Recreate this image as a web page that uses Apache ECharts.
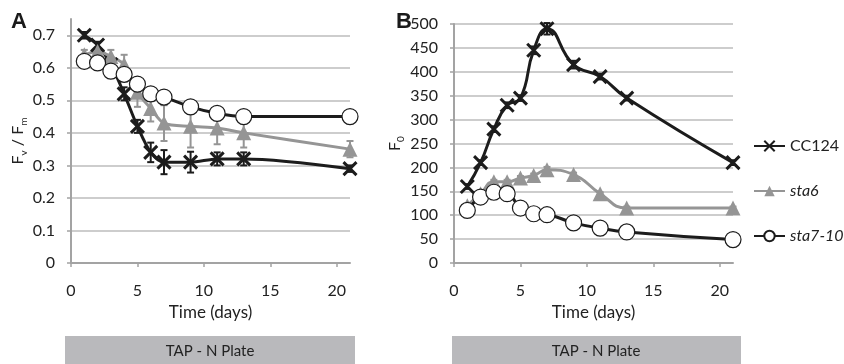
<!DOCTYPE html>
<html>
<head>
<meta charset="utf-8">
<script src="https://cdn.jsdelivr.net/npm/echarts@6/dist/echarts.min.js"></script>
<style>
html,body{margin:0;padding:0;background:#fff;}
#chart{width:844px;height:364px;}
</style>
</head>
<body>
<div id="chart"></div>
<script>
// ---- data ----
const days = [1, 2, 3, 4, 5, 6, 7, 9, 11, 13, 21];
const seriesNames = ['CC124', 'sta6', 'sta7-10'];

// Panel A: Fv/Fm
const fvfmCC124     = [0.70, 0.67, 0.61, 0.52, 0.42, 0.34, 0.31, 0.31, 0.32, 0.32, 0.29];
const fvfmCC124Err  = [0.01, 0.01, 0.02, 0.02, 0.02, 0.03, 0.037, 0.032, 0.02, 0.02, 0.01];
const fvfmSta6      = [0.64, 0.65, 0.635, 0.61, 0.525, 0.475, 0.43, 0.42, 0.415, 0.40, 0.35];
const fvfmSta6Err   = [0.015, 0.01, 0.02, 0.03, 0.045, 0.04, 0.055, 0.065, 0.05, 0.045, 0.025];
const fvfmSta710    = [0.62, 0.615, 0.59, 0.58, 0.55, 0.52, 0.51, 0.48, 0.46, 0.45, 0.45];
const fvfmSta710Err = [0.02, 0.01, 0.01, 0.01, 0.01, 0.01, 0.01, 0.01, 0.01, 0.01, 0.01];

// Panel B: F0
const f0CC124     = [160, 210, 280, 330, 345, 445, 490, 415, 390, 345, 210];
const f0CC124Err  = [5, 5, 6, 6, 6, 8, 12, 8, 6, 5, 5];
const f0Sta6      = [120, 145, 170, 170, 178, 183, 195, 185, 145, 115, 115];
const f0Sta6Err   = [3, 3, 4, 4, 4, 4, 6, 4, 3, 3, 3];
const f0Sta710    = [110, 138, 148, 145, 115, 103, 101, 84, 73, 65, 49];
const f0Sta710Err = [2, 2, 2, 2, 2, 2, 2, 2, 2, 2, 2];

const xTicks = [0, 5, 10, 15, 20];
const yTicksA = [0, 0.1, 0.2, 0.3, 0.4, 0.5, 0.6, 0.7];

// ---- styles ----
const FONT = 'Lato, "Liberation Sans", sans-serif';
const BLACK = '#1c1c1c';
const GRAY = '#959595';
const GRID_LINE = '#bcbcbc';
const AXIS_LINE = '#a3a3a3';
const X_PATH = 'path://M0,0L20,20M20,0L0,20';

function pairs(xs, ys) { return xs.map((x, i) => [x, ys[i]]); }
function errData(xs, ys, es) { return xs.map((x, i) => [x, ys[i], es[i]]); }

function errorSeries(idx, xs, ys, es, color) {
  return {
    type: 'custom',
    xAxisIndex: idx, yAxisIndex: idx,
    silent: true,
    z: 1,
    data: errData(xs, ys, es),
    renderItem: function (params, api) {
      const x = api.value(0), y = api.value(1), e = api.value(2);
      const top = api.coord([x, y + e]);
      const bot = api.coord([x, y - e]);
      const w = 3.5;
      const st = { stroke: color, lineWidth: 2 };
      return {
        type: 'group',
        children: [
          { type: 'line', shape: { x1: top[0], y1: top[1], x2: bot[0], y2: bot[1] }, style: st },
          { type: 'line', shape: { x1: top[0] - w, y1: top[1], x2: top[0] + w, y2: top[1] }, style: st },
          { type: 'line', shape: { x1: bot[0] - w, y1: bot[1], x2: bot[0] + w, y2: bot[1] }, style: st }
        ]
      };
    }
  };
}

function lineSeries(idx, name, ys, kind, smooth) {
  const base = {
    type: 'line', name: name,
    xAxisIndex: idx, yAxisIndex: idx,
    data: pairs(days, ys),
    smooth: smooth,
    z: 3
  };
  if (kind === 'x') {
    Object.assign(base, {
      symbol: X_PATH, symbolSize: 13,
      lineStyle: { color: BLACK, width: 3 },
      itemStyle: { color: BLACK, borderColor: BLACK, borderWidth: 3 }
    });
  } else if (kind === 'tri') {
    Object.assign(base, {
      symbol: 'triangle', symbolSize: 15,
      lineStyle: { color: GRAY, width: 3 },
      itemStyle: { color: GRAY, borderWidth: 0 }
    });
  } else {
    Object.assign(base, {
      symbol: 'circle', symbolSize: 16,
      lineStyle: { color: BLACK, width: 3 },
      itemStyle: { color: '#ffffff', borderColor: BLACK, borderWidth: 1.2 }
    });
  }
  return base;
}

function xAxis(idx) {
  return {
    type: 'value', gridIndex: idx, min: 0, max: 21, interval: 5,
    name: 'Time (days)', nameLocation: 'middle', nameGap: 40,
    nameTextStyle: { fontFamily: FONT, fontSize: 17, color: '#222' },
    axisLine: { show: true, lineStyle: { color: AXIS_LINE, width: 2 } },
    axisTick: { show: true, length: 4, lineStyle: { color: AXIS_LINE, width: 1.5 }, customValues: xTicks },
    axisLabel: { fontFamily: FONT, fontSize: 16, color: '#222', margin: 20, customValues: xTicks },
    splitLine: { show: false }
  };
}

function legendFor(name, top) {
  return {
    orient: 'horizontal', left: 753, top: top,
    padding: 0,
    itemWidth: 31, itemHeight: 13,
    data: [name],
    formatter: n => n === 'CC124' ? n : '{i|' + n + '}',
    textStyle: {
      fontFamily: FONT, fontSize: 16, color: '#222',
      rich: { i: { fontFamily: FONT, fontSize: 16, fontStyle: 'italic', color: '#222' } }
    }
  };
}

const chart = echarts.init(document.getElementById('chart'), null, { renderer: 'canvas' });

const option = {
  animation: false,
  backgroundColor: '#ffffff',
  textStyle: { fontFamily: FONT },
  grid: [
    { left: 71, top: 19, width: 279, height: 244 },
    { left: 454, top: 24, width: 279, height: 239 }
  ],
  xAxis: [xAxis(0), xAxis(1)],
  yAxis: [
    {
      type: 'value', gridIndex: 0, min: 0, max: 0.75, interval: 0.1,
      name: 'F{sub|v} / F{sub|m}', nameLocation: 'middle', nameGap: 32, nameRotate: 90,
      nameTextStyle: {
        fontFamily: FONT, fontSize: 16, color: '#222',
        rich: { sub: { fontFamily: FONT, fontSize: 10, color: '#222', verticalAlign: 'bottom', lineHeight: 22 } }
      },
      axisLine: { show: true, lineStyle: { color: AXIS_LINE, width: 2 } },
      axisTick: { show: true, length: 4, lineStyle: { color: AXIS_LINE, width: 1.5 }, customValues: yTicksA },
      axisLabel: { fontFamily: FONT, fontSize: 16, color: '#222', margin: 16, customValues: yTicksA,
        formatter: v => (Math.round(v * 10) / 10).toString() },
      splitLine: { show: true, lineStyle: { color: GRID_LINE, width: 1.5 } }
    },
    {
      type: 'value', gridIndex: 1, min: 0, max: 500, interval: 50,
      name: 'F{sub|0}', nameLocation: 'middle', nameGap: 48, nameRotate: 90,
      nameTextStyle: {
        fontFamily: FONT, fontSize: 16, color: '#222',
        rich: { sub: { fontFamily: FONT, fontSize: 10, color: '#222', verticalAlign: 'bottom', lineHeight: 22 } }
      },
      axisLine: { show: true, lineStyle: { color: AXIS_LINE, width: 2 } },
      axisTick: { show: true, length: 4, lineStyle: { color: AXIS_LINE, width: 1.5 } },
      axisLabel: { fontFamily: FONT, fontSize: 16, color: '#222', margin: 16 },
      splitLine: { show: true, lineStyle: { color: GRID_LINE, width: 1.5 } }
    }
  ],
  legend: [
    legendFor('CC124', 138),
    legendFor('sta6', 183),
    legendFor('sta7-10', 228)
  ],
  graphic: [
    { type: 'text', left: 11, top: 11, style: { text: 'A', font: 'bold 22px "Liberation Sans", Arial, sans-serif', fill: '#1a1a1a' } },
    { type: 'text', left: 396, top: 11, style: { text: 'B', font: 'bold 22px "Liberation Sans", Arial, sans-serif', fill: '#1a1a1a' } },
    { type: 'rect', left: 65, top: 336, shape: { width: 290, height: 28 }, style: { fill: '#b9b9bc' } },
    { type: 'rect', left: 452, top: 336, shape: { width: 289, height: 28 }, style: { fill: '#b9b9bc' } },
    { type: 'text', x: 210, y: 351, style: { text: 'TAP - N Plate', font: '15px Lato, sans-serif', fill: '#222', align: 'center', verticalAlign: 'middle' } },
    { type: 'text', x: 596, y: 351, style: { text: 'TAP - N Plate', font: '15px Lato, sans-serif', fill: '#222', align: 'center', verticalAlign: 'middle' } }
  ],
  series: [
    errorSeries(0, days, fvfmCC124, fvfmCC124Err, BLACK),
    errorSeries(0, days, fvfmSta6, fvfmSta6Err, GRAY),
    errorSeries(0, days, fvfmSta710, fvfmSta710Err, BLACK),
    lineSeries(0, 'CC124', fvfmCC124, 'x', 0.3),
    lineSeries(0, 'sta6', fvfmSta6, 'tri', 0.3),
    lineSeries(0, 'sta7-10', fvfmSta710, 'o', 0.3),
    errorSeries(1, days, f0CC124, f0CC124Err, BLACK),
    errorSeries(1, days, f0Sta6, f0Sta6Err, GRAY),
    errorSeries(1, days, f0Sta710, f0Sta710Err, BLACK),
    lineSeries(1, 'CC124', f0CC124, 'x', 0.5),
    lineSeries(1, 'sta6', f0Sta6, 'tri', 0.5),
    lineSeries(1, 'sta7-10', f0Sta710, 'o', 0.5)
  ]
};
chart.setOption(option);
</script>
</body>
</html>
